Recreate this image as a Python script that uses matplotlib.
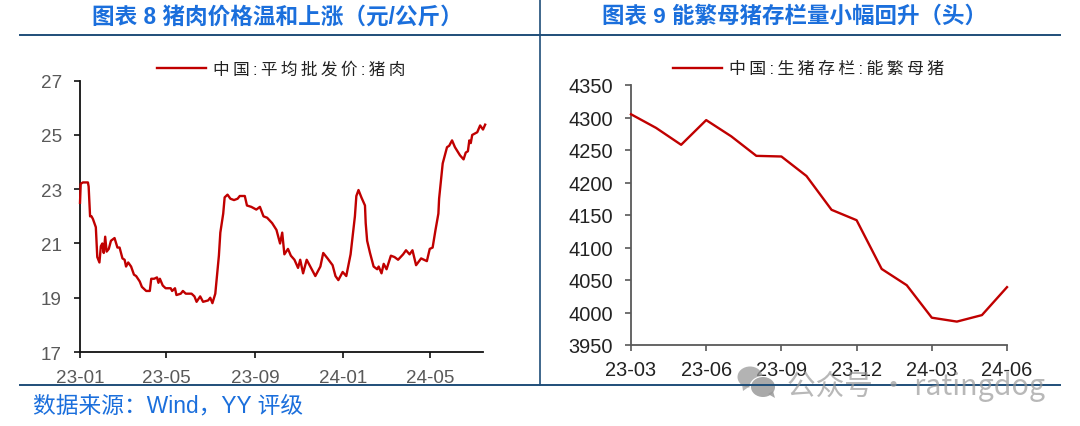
import pandas as pd
import matplotlib
matplotlib.use("Agg")
import matplotlib.pyplot as plt
from matplotlib.patches import Ellipse, Polygon

plt.rcParams['font.family'] = ['Liberation Sans', 'Noto Sans CJK SC', 'DejaVu Sans']

# chart 8: daily pork price, x = days since 2023-01-01
pork_days = [0,1,4,11,12,14,16,18,22,24,27,29,31,33,35,37,40,43,48,52,55,59,62,64,67,71,75,78,83,86,92,97,99,103,107,109,111,115,119,
             126,128,132,134,140,143,147,155,159,162,167,171,178,181,184,188,193,195,199,201,205,209,214,219,222,229,232,238,245,250,
             255,260,267,273,278,281,284,289,293,298,303,306,310,315,320,327,334,338,344,351,355,359,365,370,376,382,384,387,391,396,
             397,399,403,408,413,415,419,422,426,432,437,442,449,453,458,462,467,474,482,486,490,494,498,499,504,510,513,517,521,528,
             533,536,539,541,543,545,552,556,560,563]
pork_price = [22.5,23.2,23.25,23.25,23.1,22.0,22.0,21.9,21.6,20.5,20.3,20.9,21.0,20.65,21.25,20.7,20.8,21.1,21.2,20.85,20.85,20.45,20.4,20.15,20.3,20.15,19.85,19.8,19.6,19.4,19.25,19.25,19.7,19.7,19.75,19.55,19.7,19.45,19.35,
              19.35,19.25,19.35,19.1,19.15,19.25,19.15,19.15,19.05,18.85,19.05,18.85,18.9,19.0,18.8,19.15,20.55,21.4,22.1,22.7,22.8,22.65,22.6,22.65,22.75,22.75,22.4,22.35,22.25,22.35,
              22.0,21.95,21.75,21.5,21.0,21.4,20.6,20.8,20.55,20.4,20.1,20.4,19.9,20.4,20.15,19.8,20.15,20.65,20.45,20.2,19.8,19.65,19.95,19.8,20.6,22.0,22.75,22.97,22.7,22.4,
              21.75,21.1,20.65,20.15,20.05,20.15,19.9,20.25,20.05,20.55,20.5,20.4,20.6,20.75,20.6,20.75,20.2,20.45,20.35,20.8,20.85,21.5,22.1,22.65,23.95,24.55,24.6,24.8,24.55,24.25,
              24.1,24.35,24.4,24.8,24.7,25.0,25.1,25.35,25.2,25.38]
pork_ticks = ["2023-01-01", "2023-05-01", "2023-09-01", "2024-01-01", "2024-05-01"]
pork_tick_labels = ["23-01", "23-05", "23-09", "24-01", "24-05"]
pork_yticks = [17, 19, 21, 23, 25, 27]

# chart 9: monthly breeding sow stock
sow_months = ["23-03","23-04","23-05","23-06","23-07","23-08","23-09","23-10","23-11","23-12","24-01","24-02","24-03","24-04","24-05","24-06"]
sow_stock = [4305,4284,4258,4296,4271,4241,4240,4210,4158,4142,4067,4042,3992,3986,3996,4039]
sow_yticks = [3950,4000,4050,4100,4150,4200,4250,4300,4350]

W, H = 1080, 427
BLUE = "#1b6fdc"
RED = "#c00000"
NAVY = "#1f4e79"

def box(x0, y_top, x1, y_bot):
    return [x0 / W, 1 - y_bot / H, (x1 - x0) / W, (y_bot - y_top) / H]

def spaced(s):
    return "\u2009".join(s)

fig = plt.figure(figsize=(W / 100, H / 100), dpi=100)

# left chart
ax1 = fig.add_axes(box(80, 81.7, 483, 353))
tick_days = [(pd.Timestamp(d) - pd.Timestamp("2023-01-01")).days for d in pork_ticks]
ax1.plot(pork_days, pork_price, color=RED, lw=1.7, clip_on=False, zorder=5)
ax1.set_xlim(0, 560)
ax1.set_ylim(17, 27)
ax1.set_xticks(tick_days)
ax1.set_xticklabels(pork_tick_labels)
ax1.set_yticks(pork_yticks)
ax1.tick_params(axis="both", labelsize=13.6, labelcolor="#595959", color="#111111", width=1.2, length=4)
ax1.tick_params(axis="x", pad=8)
ax1.tick_params(axis="y", pad=9)
for side in ["top", "right"]:
    ax1.spines[side].set_visible(False)
for side in ["left", "bottom"]:
    ax1.spines[side].set_linewidth(1.3)
    ax1.spines[side].set_color("#111111")

# right chart
ax2 = fig.add_axes(box(631, 86, 1007, 346))
ax2.plot(range(len(sow_stock)), sow_stock, color=RED, lw=1.7, clip_on=False, zorder=5)
ax2.set_xlim(0, len(sow_stock) - 1)
ax2.set_ylim(3950, 4350)
ax2.set_xticks(range(0, len(sow_months), 3))
ax2.set_xticklabels(sow_months[::3])
ax2.set_yticks(sow_yticks)
ax2.tick_params(axis="both", labelsize=14.4, labelcolor="#222222", color="#595959", width=1.2, length=4)
ax2.tick_params(axis="x", pad=7)
ax2.tick_params(axis="y", pad=9)
for side in ["top", "right"]:
    ax2.spines[side].set_visible(False)
for side in ["left", "bottom"]:
    ax2.spines[side].set_linewidth(1.3)
    ax2.spines[side].set_color("#595959")

# overlay in pixel coordinates for the frame, titles, legends, source and watermark
ov = fig.add_axes([0, 0, 1, 1], zorder=10)
ov.set_xlim(0, W)
ov.set_ylim(H, 0)
ov.axis("off")
ov.patch.set_alpha(0)

ov.plot([20, 1060], [35.5, 35.5], color=NAVY, lw=1.4)
ov.plot([20, 1060], [386, 386], color=NAVY, lw=1.4)
ov.plot([539.5, 539.5], [0, 386], color=NAVY, lw=1.2)

ov.text(277, 17, "图表 8 猪肉价格温和上涨（元/公斤）", color=BLUE, fontsize=16.3, fontweight="bold",
        ha="center", va="center")
ov.text(795, 17, "图表 9 能繁母猪存栏量小幅回升（头）", color=BLUE, fontsize=16.2, fontweight="bold",
        ha="center", va="center")

ov.plot([157, 206], [69, 69], color=RED, lw=1.7)
ov.text(213, 69.5, spaced("中国:平均批发价:猪肉"), color="#222222", fontsize=12, ha="left", va="center")
ov.plot([673, 722], [69, 69], color=RED, lw=1.7)
ov.text(729, 69.5, spaced("中国:生猪存栏:能繁母猪"), color="#222222", fontsize=12.2, ha="left", va="center")

ov.text(33, 406, "数据来源：Wind，YY 评级", color=BLUE, fontsize=16.4, ha="left", va="center")

# watermark
GREY = "#9a9a9a"
ov.add_patch(Ellipse((750, 378), 25, 21, color=GREY, alpha=0.75, lw=0))
ov.add_patch(Polygon([[742, 385], [743, 392], [750, 387]], color=GREY, alpha=0.75, lw=0))
ov.add_patch(Ellipse((763, 388), 27, 22, color="#ffffff", lw=0))
ov.add_patch(Ellipse((763, 388), 24, 20, color=GREY, alpha=0.85, lw=0))
ov.add_patch(Polygon([[768, 395], [775, 399], [773, 392]], color=GREY, alpha=0.85, lw=0))
ov.text(787, 386, "公众号 · ratingdog", color=GREY, alpha=0.7, fontsize=20.6, ha="left", va="center",
        family=["Noto Sans CJK SC", "DejaVu Sans"])

fig.savefig("out.png", dpi=100)
